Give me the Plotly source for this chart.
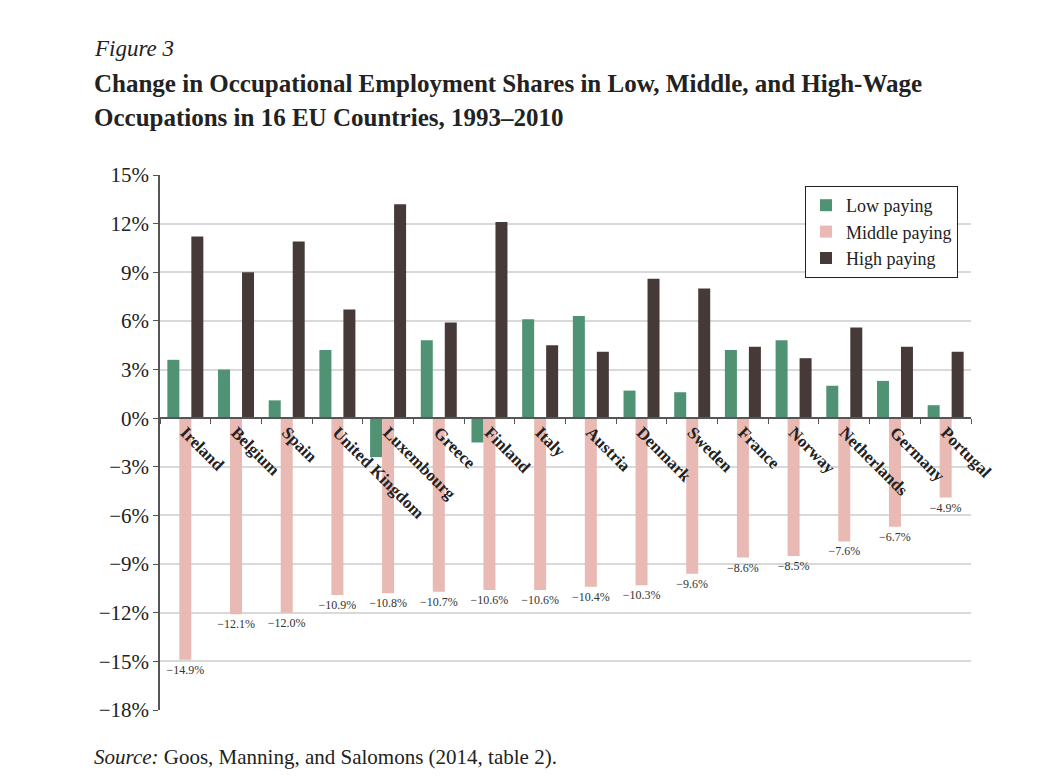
import plotly.graph_objects as go

countries = ["Ireland", "Belgium", "Spain", "United Kingdom", "Luxembourg", "Greece",
             "Finland", "Italy", "Austria", "Denmark", "Sweden", "France", "Norway",
             "Netherlands", "Germany", "Portugal"]
low_paying = [3.6, 3.0, 1.1, 4.2, -2.4, 4.8, -1.5, 6.1, 6.3, 1.7, 1.6, 4.2, 4.8, 2.0, 2.3, 0.8]
middle_paying = [-14.9, -12.1, -12.0, -10.9, -10.8, -10.7, -10.6, -10.6, -10.4, -10.3, -9.6,
                 -8.6, -8.5, -7.6, -6.7, -4.9]
high_paying = [11.2, 9.0, 10.9, 6.7, 13.2, 5.9, 12.1, 4.5, 4.1, 8.6, 8.0, 4.4, 3.7, 5.6, 4.4, 4.1]
y_ticks = [15, 12, 9, 6, 3, 0, -3, -6, -9, -12, -15, -18]

def fmt(v):
    s = f"{abs(v):.1f}%"
    return ("\u2212" + s) if v < 0 else s

SERIF = "Liberation Serif"
C_LOW, C_MID, C_HIGH = "#4F9274", "#E9B9B3", "#463A39"

fig = go.Figure()
fig.add_trace(go.Bar(x=countries, y=low_paying, name="Low paying", marker_color=C_LOW,
                     marker_line_width=0))
fig.add_trace(go.Bar(x=countries, y=middle_paying, name="Middle paying", marker_color=C_MID,
                     marker_line_width=0, text=[fmt(v) for v in middle_paying],
                     textposition="outside", constraintext="none", cliponaxis=False,
                     textfont=dict(family=SERIF, size=12, color="#333333")))
fig.add_trace(go.Bar(x=countries, y=high_paying, name="High paying", marker_color=C_HIGH,
                     marker_line_width=0))

L, R, T, B = 160, 71, 175, 68
W, H = 1042, 778
pw, ph = W - L - R, H - T - B

def px(x):
    return (x - L) / pw

def py(y):
    return (H - B - y) / ph

fig.update_layout(
    width=W, height=H, margin=dict(l=L, r=R, t=T, b=B),
    paper_bgcolor="white", plot_bgcolor="white",
    barmode="group", bargap=0.29, bargroupgap=0,
    font=dict(family=SERIF, color="#222222"),
    showlegend=True,
    legend=dict(x=px(805), y=py(186), xanchor="left", yanchor="top",
                bordercolor="#222222", borderwidth=1, bgcolor="white",
                font=dict(family=SERIF, size=18, color="#222222"),
                itemwidth=30, tracegroupgap=0),
    xaxis=dict(anchor="free", position=18 / 33, showline=True, linecolor="#555555",
               linewidth=1.5, ticks="outside", tickson="boundaries", ticklen=5,
               tickcolor="#555555", tickangle=45, showgrid=False, ticklabelstandoff=-3,
               tickfont=dict(family=SERIF, size=17, color="#222222", weight="bold")),
    yaxis=dict(range=[-18, 15], tickvals=y_ticks, ticktext=[fmt(v).replace(".0", "") for v in y_ticks],
               showgrid=True, gridcolor="#D9D9D9", gridwidth=1.5, zeroline=False,
               showline=True, linecolor="#555555", linewidth=1.5, ticks="outside",
               ticklen=5, tickcolor="#555555",
               tickfont=dict(family=SERIF, size=21, color="#222222")),
)

annos = [
    dict(text="<i>Figure 3</i>", x=px(92), y=py(48), font=dict(size=23)),
    dict(text="<b>Change in Occupational Employment Shares in Low, Middle, and High-Wage</b>",
         x=px(92), y=py(84), font=dict(size=25)),
    dict(text="<b>Occupations in 16 EU Countries, 1993\u20132010</b>",
         x=px(92), y=py(117), font=dict(size=25)),
    dict(text="<i>Source:</i> Goos, Manning, and Salomons (2014, table 2).",
         x=px(92), y=py(757), font=dict(size=21)),
]
for a in annos:
    fig.add_annotation(xref="paper", yref="paper", xanchor="left", yanchor="middle",
                       showarrow=False, font_family=SERIF, font_color="#222222", **{k: v for k, v in a.items()})

fig.write_html("out.html")
